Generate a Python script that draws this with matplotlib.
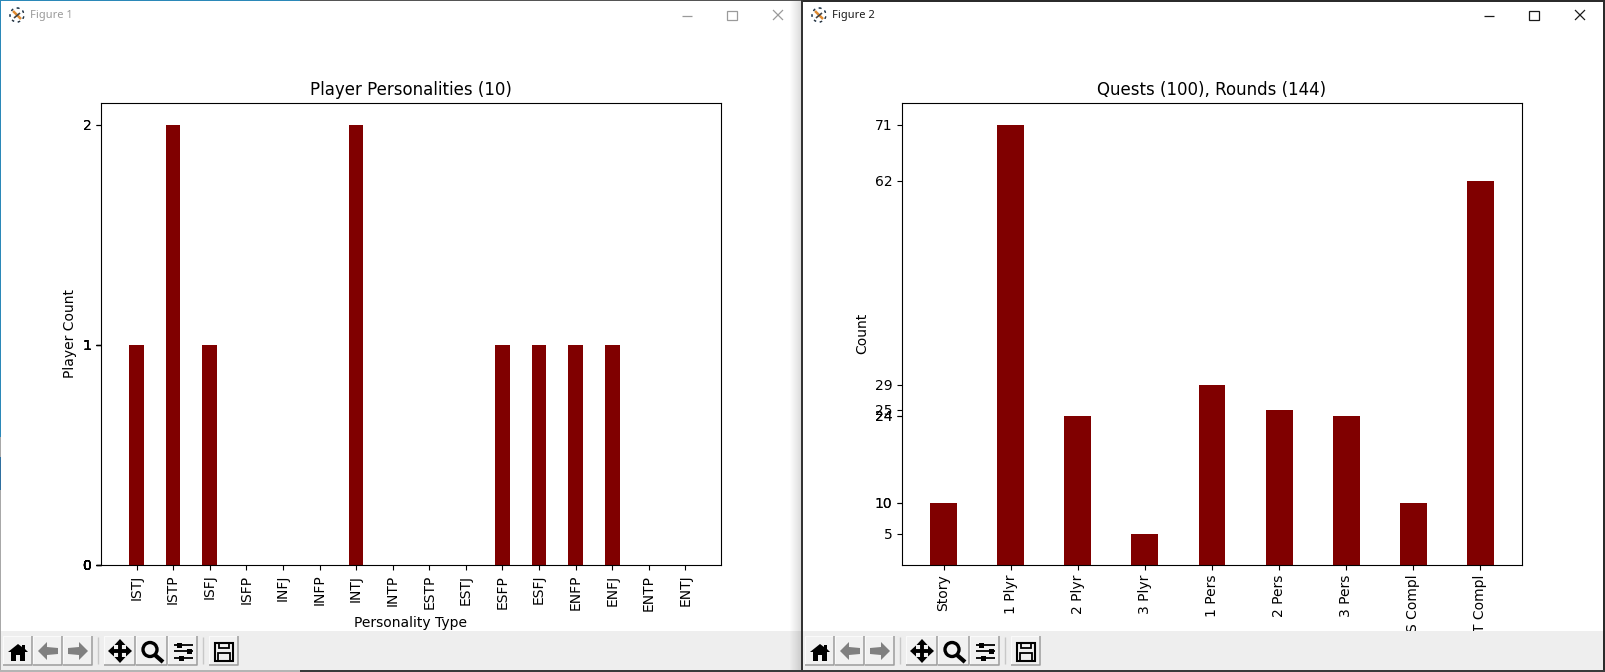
import matplotlib
matplotlib.use("Agg")
import matplotlib.pyplot as plt
from matplotlib.patches import Rectangle, Circle, Polygon

W, H = 1606, 672

# data
personalities = ["ISTJ", "ISTP", "ISFJ", "ISFP", "INFJ", "INFP", "INTJ", "INTP",
                 "ESTP", "ESTJ", "ESFP", "ESFJ", "ENFP", "ENFJ", "ENTP", "ENTJ"]
player_counts = [1, 2, 1, 0, 0, 0, 2, 0, 0, 0, 1, 1, 1, 1, 0, 0]

quest_labels = ["Story", "1 Plyr", "2 Plyr", "3 Plyr", "1 Pers", "2 Pers", "3 Pers",
                "S Compl", "T Compl"]
quest_counts = [10, 71, 24, 5, 29, 25, 24, 10, 62]


def add_axes_px(fig, left, top, right, bottom):
    return fig.add_axes([left / W, 1 - bottom / H, (right - left) / W, (bottom - top) / H])


fig = plt.figure(figsize=(W / 100, H / 100), dpi=100, facecolor="white")

ax1 = add_axes_px(fig, 101, 103, 721, 565)
ax1.bar(personalities, player_counts, color="maroon", width=0.4)
ax1.set_yticks(player_counts)
ax1.tick_params(axis="x", labelrotation=90)
ax1.set_title("Player Personalities (10)", fontsize=12)
ax1.set_xlabel("Personality Type")
ax1.set_ylabel("Player Count")

ax2 = add_axes_px(fig, 902, 103, 1522, 564.5)
ax2.bar(quest_labels, quest_counts, color="maroon", width=0.4)
ax2.set_yticks(quest_counts)
ax2.tick_params(axis="x", labelrotation=90)
ax2.set_title("Quests (100), Rounds (144)", fontsize=12)
ax2.set_ylabel("Count")

# window chrome, drawn over the plots in pixel coordinates
ch = fig.add_axes([0, 0, 1, 1], zorder=10)
ch.set_xlim(0, W)
ch.set_ylim(H, 0)
ch.axis("off")
ch.patch.set_alpha(0)


def rect(x, y, w, h, **kw):
    kw.setdefault("linewidth", 0)
    ch.add_patch(Rectangle((x, y), w, h, **kw))


def line(xs, ys, color="black", lw=1.0):
    ch.plot(xs, ys, color=color, lw=lw, solid_capstyle="butt")


def button(x, w):
    rect(x, 636, w, 29, facecolor="#f1f1f1")
    line([x, x, x + w], [665, 636, 636], color="#fafafa", lw=0.8)
    line([x, x + w, x + w], [665, 665, 636], color="#9c9c9c", lw=1.1)


def toolbar(x0, width):
    rect(x0, 631, width, 39, facecolor="#eeeeee")
    for dx, w in [(3.5, 29), (33.5, 29), (63.5, 29), (104.5, 30.5), (136, 31), (168, 29.5), (209, 29)]:
        button(x0 + dx, w)
    for dx in (98.5, 203.5):
        line([x0 + dx, x0 + dx], [637, 664], color="#c8c8c8", lw=1)
    # home
    ch.add_patch(Polygon([(x0 + 8, 652), (x0 + 18, 644), (x0 + 22, 647), (x0 + 22, 645), (x0 + 25, 645),
                          (x0 + 25, 649), (x0 + 28, 652), (x0 + 25, 652), (x0 + 25, 661), (x0 + 20, 661),
                          (x0 + 20, 655), (x0 + 16, 655), (x0 + 16, 661), (x0 + 11, 661), (x0 + 11, 652)],
                         facecolor="black", lw=0))
    # back / forward
    for c, s in [(48, -1), (78, 1)]:
        tip = x0 + c + s * 10
        neck = x0 + c + s * 1
        tail = x0 + c - s * 10
        ch.add_patch(Polygon([(tip, 651), (neck, 642), (neck, 647), (tail, 648), (tail, 654), (neck, 655), (neck, 660)],
                             facecolor="#808080", lw=0))
    # move
    cx, cy = x0 + 120, 651
    line([cx - 9, cx + 9], [cy, cy], lw=2.8)
    line([cx, cx], [cy - 9, cy + 9], lw=2.8)
    for dx, dy in [(1, 0), (-1, 0), (0, 1), (0, -1)]:
        tx, ty = cx + dx * 12, cy + dy * 12
        bx, by = cx + dx * 6, cy + dy * 6
        ch.add_patch(Polygon([(tx, ty), (bx + dy * 5.5, by + dx * 5.5), (bx - dy * 5.5, by - dx * 5.5)],
                             facecolor="black", lw=0))
    # zoom
    ch.add_patch(Circle((x0 + 150, 649.5), 7, facecolor="none", edgecolor="black", lw=2.4))
    line([x0 + 155, x0 + 163], [655, 662], lw=3)
    # sliders
    for y, k in [(645, 177), (651, 187), (658, 179)]:
        line([x0 + 174, x0 + 193], [y, y], lw=1.3)
        rect(x0 + k, y - 2, 5, 4.5, facecolor="black")
    # save
    rect(x0 + 215, 643, 18, 18, facecolor="none", edgecolor="black", linewidth=1.5)
    rect(x0 + 219, 643, 10, 5, facecolor="none", edgecolor="black", linewidth=1.3)
    rect(x0 + 218, 653, 12, 8, facecolor="none", edgecolor="black", linewidth=1.3)


def titlebar(x0, name, color, btn):
    for c, start in [("#2a6fb0", 0), ("#333333", 5)]:
        ch.add_patch(Circle((x0 + 17, 15), 7, facecolor="none", edgecolor=c, lw=0.9,
                            linestyle=(start, (2, 3))))
    line([x0 + 13, x0 + 21], [11, 19], color="#e08a30", lw=1.8)
    line([x0 + 14, x0 + 20], [18, 13], color="#444444", lw=1.2)
    ch.text(x0 + 30, 15.5, name, fontsize=8, family="Noto Sans", color=color, va="center", ha="left")
    mx, sx, cx = btn
    line([mx - 5, mx + 5], [15.5, 15.5], color=color, lw=0.9)
    rect(sx - 5, 10.5, 10, 9, facecolor="none", edgecolor=color, linewidth=0.9)
    line([cx - 5, cx + 5], [10, 20], color=color, lw=0.9)
    line([cx - 5, cx + 5], [20, 10], color=color, lw=0.9)


toolbar(0, 802)
toolbar(802, 802)
titlebar(0, "Figure 1", "#9a9a9a", (687, 732, 778))
titlebar(802, "Figure 2", "#1a1a1a", (1489, 1534, 1580))

# shadow of the right window on the left one
for i in range(12):
    rect(790 + i, 0, 1, 670, facecolor="black", alpha=0.012 * (i + 1))

# window borders
rect(0, 0, 300, 1, facecolor="#2b88b8")
rect(300, 0, 501, 1, facecolor="#555555")
rect(0, 0, 1.2, 437, facecolor="#2b88b8")
rect(0, 437, 1.2, 233, facecolor="#a8a8a8")
rect(0, 457, 1.2, 33, facecolor="#2f6f9f")
rect(801.5, 0, 2, H, facecolor="#333333")
rect(803, 0, W - 803, 1.5, facecolor="#2b2b2b")
rect(1603, 0, 3, H, facecolor="#2b2b2b")
rect(0, 670, 300, 2, facecolor="#b4b4b4")
rect(300, 670, W - 300, 2, facecolor="#3a3a3a")

fig.savefig("out.png", dpi=100)
